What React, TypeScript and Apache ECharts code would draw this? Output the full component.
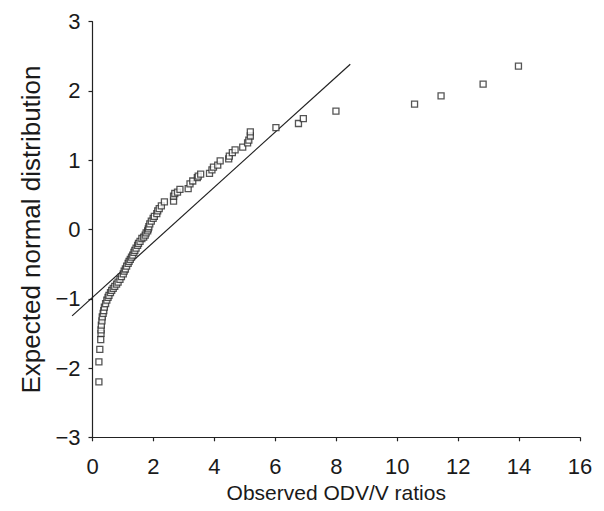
import React, { useEffect, useRef } from "react";
import * as echarts from "echarts";

const observedRatio = [
  0.21, 0.21, 0.24, 0.27, 0.28, 0.28, 0.29, 0.31, 0.32, 0.35, 0.37, 0.39, 0.43, 0.47, 0.51, 0.54,
  0.59, 0.63, 0.68, 0.73, 0.79, 0.84, 0.90, 0.95, 1.01, 1.04, 1.08, 1.12, 1.17, 1.20, 1.24, 1.28,
  1.32, 1.36, 1.39, 1.43, 1.48, 1.51, 1.56, 1.62, 1.68, 1.73, 1.76, 1.81, 1.83, 1.85, 1.88, 1.93,
  1.99, 2.03, 2.11, 2.14, 2.19, 2.26, 2.36, 2.66, 2.66, 2.70, 2.79, 2.87, 3.14, 3.20, 3.29, 3.44,
  3.47, 3.55, 3.84, 3.92, 3.97, 4.11, 4.19, 4.47, 4.49, 4.59, 4.68, 4.93, 5.09, 5.13, 5.18, 5.18,
  6.02, 6.76, 6.92, 7.99, 10.57, 11.44, 12.82, 13.98,
];
const expectedNormal = [
  -2.20, -1.91, -1.73, -1.59, -1.50, -1.45, -1.38, -1.32, -1.26, -1.21, -1.17, -1.12, -1.07, -1.02, -0.98, -0.95,
  -0.91, -0.88, -0.85, -0.82, -0.79, -0.76, -0.72, -0.68, -0.64, -0.60, -0.57, -0.53, -0.49, -0.46, -0.43, -0.40,
  -0.37, -0.33, -0.30, -0.27, -0.23, -0.20, -0.17, -0.13, -0.11, -0.08, -0.05, -0.02, 0.01, 0.04, 0.08, 0.12,
  0.16, 0.19, 0.23, 0.27, 0.30, 0.34, 0.40, 0.41, 0.48, 0.52, 0.54, 0.58, 0.59, 0.66, 0.70, 0.75,
  0.77, 0.80, 0.81, 0.86, 0.90, 0.93, 0.99, 1.02, 1.06, 1.11, 1.15, 1.19, 1.25, 1.29, 1.35, 1.41,
  1.47, 1.53, 1.60, 1.71, 1.81, 1.93, 2.10, 2.36,
];
const fitLineX = [-0.67, 8.46];
const fitLineY = [-1.247, 2.386];

const xTicks = { min: 0, max: 16, interval: 2 };
const yTicks = { min: -3, max: 3, interval: 1 };

const FONT = "'Liberation Sans', Arial, Helvetica, sans-serif";

export default function App() {
  const ref = useRef<HTMLDivElement>(null);
  useEffect(() => {
    if (!ref.current) return;
    const chart = echarts.init(ref.current, undefined, { renderer: "svg" });
    const points = observedRatio.map((x, i) => [x, expectedNormal[i]]);
    const lineSeg = [[fitLineX[0], fitLineY[0], fitLineX[1], fitLineY[1]]];
    chart.setOption({
      animation: false,
      backgroundColor: "#ffffff",
      grid: { left: 92.5, right: 24, top: 21.7, bottom: 73.7, containLabel: false },
      xAxis: {
        type: "value",
        min: xTicks.min,
        max: xTicks.max,
        interval: xTicks.interval,
        name: "Observed ODV/V ratios",
        nameLocation: "middle",
        nameGap: 44,
        nameTextStyle: { fontFamily: FONT, fontSize: 21, color: "#1a1a1a" },
        axisLine: { show: true, onZero: false, lineStyle: { color: "#222", width: 1.2 } },
        axisTick: { show: true, inside: false, length: 4, lineStyle: { color: "#222", width: 1.2 } },
        axisLabel: { fontFamily: FONT, fontSize: 22, color: "#1a1a1a", margin: 18 },
        splitLine: { show: false },
      },
      yAxis: {
        type: "value",
        min: yTicks.min,
        max: yTicks.max,
        interval: yTicks.interval,
        name: "Expected normal distribution",
        nameLocation: "middle",
        nameGap: 49,
        nameRotate: 90,
        nameTextStyle: { fontFamily: FONT, fontSize: 26, color: "#1a1a1a" },
        axisLine: { show: true, onZero: false, lineStyle: { color: "#222", width: 1.2 } },
        axisTick: { show: true, inside: false, length: 4, lineStyle: { color: "#222", width: 1.2 } },
        axisLabel: {
          fontFamily: FONT,
          fontSize: 22,
          color: "#1a1a1a",
          margin: 12,
          formatter: (v: number) => String(v).replace("-", "\u2212"),
        },
        splitLine: { show: false },
      },
      series: [
        {
          type: "custom",
          data: lineSeg,
          clip: false,
          silent: true,
          encode: { x: [0, 2], y: [1, 3] },
          renderItem: (_params: any, api: any) => {
            const p0 = api.coord([api.value(0), api.value(1)]);
            const p1 = api.coord([api.value(2), api.value(3)]);
            return {
              type: "line",
              shape: { x1: p0[0], y1: p0[1], x2: p1[0], y2: p1[1] },
              style: { stroke: "#222", lineWidth: 1.2 },
            };
          },
          z: 1,
        },
        {
          type: "scatter",
          data: points,
          symbol: "rect",
          symbolSize: 6,
          itemStyle: { color: "#ffffff", borderColor: "#2a2a2a", borderWidth: 1.3 },
          z: 2,
        },
      ],
    });
    return () => chart.dispose();
  }, []);
  return <div ref={ref} style={{ width: 604, height: 511, position: "absolute", left: 0, top: 0 }} />;
}
